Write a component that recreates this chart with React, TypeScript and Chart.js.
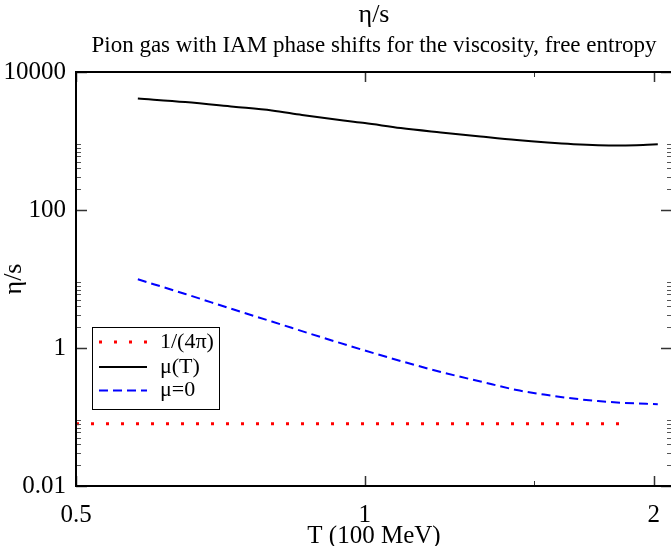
import React, { useEffect, useRef } from "react";
import { Chart, registerables } from "chart.js";

Chart.register(...registerables);

// ---- data ----
const tKss = [0.5, 1.87];
const etaKss = [0.0796, 0.0796];

const tMu = [0.58, 0.65, 0.73, 0.8, 0.86, 0.95, 1.0, 1.09, 1.2, 1.32, 1.44, 1.55, 1.65, 1.75, 1.85, 1.95, 2.02];
const etaMu = [4130, 3670, 3140, 2770, 2380, 1980, 1820, 1540, 1330, 1160, 1030, 950, 899, 869, 861, 875, 896];

const tMu0 = [0.58, 0.65, 0.73, 0.8, 0.9, 1.0, 1.09, 1.2, 1.32, 1.44, 1.55, 1.65, 1.75, 1.85, 2.02];
const etaMu0 = [9.9, 6.06, 3.61, 2.42, 1.44, 0.92, 0.648, 0.449, 0.327, 0.246, 0.208, 0.185, 0.17, 0.161, 0.153];

const seriesLabels = ["1/(4π)", "μ(T)", "μ=0"];

const xTickValues = [0.5, 1, 2];
const xTickLabels = ["0.5", "1", "2"];
const xMinorTicks = [1.5];

const yTickValues = [0.01, 1, 100, 10000];
const yTickLabels = ["0.01", "1", "100", "10000"];
const yMinorTicks = [
  0.02, 0.03, 0.04, 0.05, 0.06, 0.07, 0.08, 0.09,
  2, 3, 4, 5, 6, 7, 8, 9,
  200, 300, 400, 500, 600, 700, 800, 900,
];

const titleText = "η/s";
const subtitleText = "Pion gas with IAM phase shifts for the viscosity, free entropy";
const xTitle = "T (100 MeV)";
const yTitle = "η/s";

const FONT = "'Liberation Serif', 'Times New Roman', serif";

const toPoints = (xs: number[], ys: number[]) => xs.map((x, i) => ({ x, y: ys[i] }));

const frameTicksLegend = {
  id: "frameTicksLegend",
  afterDatasetsDraw(chart: any) {
    const { ctx, chartArea: a, scales } = chart;
    const xs = scales.x;
    const ys = scales.y;
    ctx.save();
    ctx.setLineDash([]);
    ctx.strokeStyle = "#000";
    ctx.lineCap = "butt";

    const drawX = (v: number, len: number, w: number) => {
      const px = Math.round(xs.getPixelForValue(v)) + 0.5;
      ctx.lineWidth = w;
      ctx.beginPath();
      ctx.moveTo(px, a.bottom);
      ctx.lineTo(px, a.bottom - len);
      ctx.moveTo(px, a.top);
      ctx.lineTo(px, a.top + len);
      ctx.stroke();
    };
    const drawY = (v: number, len: number, w: number) => {
      const py = Math.round(ys.getPixelForValue(v)) + 0.5;
      ctx.lineWidth = w;
      ctx.beginPath();
      ctx.moveTo(a.left, py);
      ctx.lineTo(a.left + len, py);
      ctx.moveTo(a.right, py);
      ctx.lineTo(a.right - len, py);
      ctx.stroke();
    };
    ctx.strokeStyle = "#333";
    xTickValues.forEach((v) => drawX(v, 10, 1.5));
    xMinorTicks.forEach((v) => drawX(v, 5, 1));
    yTickValues.forEach((v) => drawY(v, 11, 1.5));
    ctx.strokeStyle = "#555";
    yMinorTicks.forEach((v) => drawY(v, 5, 1));

    ctx.strokeStyle = "#000";
    ctx.lineWidth = 2;
    ctx.strokeRect(a.left, a.top, a.right - a.left, a.bottom - a.top);

    // legend
    const lx = a.left + 16;
    const ly = a.top + 255;
    const lw = 127;
    const lh = 82;
    ctx.fillStyle = "#fff";
    ctx.fillRect(lx, ly, lw, lh);
    ctx.lineWidth = 1;
    ctx.strokeStyle = "#000";
    ctx.strokeRect(lx + 0.5, ly + 0.5, lw, lh);
    const rows = [15, 40, 63.5];
    chart.data.datasets.forEach((ds: any, i: number) => {
      const y = ly + rows[i];
      ctx.save();
      ctx.strokeStyle = ds.borderColor;
      ctx.lineWidth = ds.borderWidth;
      ctx.setLineDash(ds.borderDash || []);
      ctx.beginPath();
      ctx.moveTo(lx + 7, y);
      ctx.lineTo(lx + 55, y);
      ctx.stroke();
      ctx.restore();
      ctx.fillStyle = "#000";
      ctx.font = `22px ${FONT}`;
      ctx.textBaseline = "middle";
      ctx.textAlign = "left";
      ctx.fillText(ds.label, lx + 68, y);
    });
    ctx.restore();
  },
};

export default function App() {
  const ref = useRef<HTMLCanvasElement | null>(null);

  useEffect(() => {
    if (!ref.current) return;
    const chart = new Chart(ref.current, {
      type: "line",
      data: {
        datasets: [
          {
            label: seriesLabels[0],
            data: toPoints(tKss, etaKss),
            borderColor: "#ff0000",
            borderWidth: 3,
            borderDash: [3, 12],
            pointRadius: 0,
            fill: false,
          },
          {
            label: seriesLabels[1],
            data: toPoints(tMu, etaMu),
            borderColor: "#000000",
            borderWidth: 2,
            pointRadius: 0,
            cubicInterpolationMode: "monotone",
            fill: false,
          },
          {
            label: seriesLabels[2],
            data: toPoints(tMu0, etaMu0),
            borderColor: "#0000ff",
            borderWidth: 2,
            borderDash: [9, 5],
            pointRadius: 0,
            cubicInterpolationMode: "monotone",
            fill: false,
          },
        ],
      },
      options: {
        responsive: false,
        animation: false,
        devicePixelRatio: 1,
        layout: { padding: { left: 0, right: 28, top: 0, bottom: 0 } },
        plugins: {
          legend: { display: false },
          tooltip: { enabled: false },
          title: {
            display: true,
            text: titleText,
            fullSize: false,
            color: "#000",
            font: { family: FONT, size: 26, weight: "normal", lineHeight: 1 },
            padding: { top: 2, bottom: 2 },
          },
          subtitle: {
            display: true,
            text: subtitleText,
            fullSize: false,
            color: "#000",
            font: { family: FONT, size: 23, weight: "normal", lineHeight: 1 },
            padding: { top: 4, bottom: 15 },
          },
        },
        scales: {
          x: {
            type: "logarithmic",
            min: 0.5,
            max: 2.09,
            afterBuildTicks: (s: any) => {
              s.ticks = xTickValues.map((v) => ({ value: v }));
            },
            afterFit: (s: any) => {
              s.height = 60;
            },
            grid: { display: false, drawTicks: false },
            border: { display: false },
            ticks: {
              autoSkip: false,
              maxRotation: 0,
              padding: 14,
              color: "#000",
              font: { family: FONT, size: 25 },
              callback: (_v: any, i: number) => xTickLabels[i],
            },
            title: {
              display: true,
              text: xTitle,
              color: "#000",
              font: { family: FONT, size: 25, lineHeight: 0.8 },
              padding: { top: 0, bottom: 0 },
            },
          },
          y: {
            type: "logarithmic",
            min: 0.01,
            max: 10000,
            afterBuildTicks: (s: any) => {
              s.ticks = yTickValues.map((v) => ({ value: v }));
            },
            afterFit: (s: any) => {
              s.width = 76;
            },
            grid: { display: false, drawTicks: false },
            border: { display: false },
            ticks: {
              autoSkip: false,
              padding: 10,
              color: "#000",
              font: { family: FONT, size: 25 },
              callback: (_v: any, i: number) => yTickLabels[i],
            },
            title: {
              display: true,
              text: yTitle,
              color: "#000",
              font: { family: FONT, size: 26, lineHeight: 1 },
              padding: { top: 1, bottom: 0 },
            },
          },
        },
      } as any,
      plugins: [frameTicksLegend],
    });
    return () => chart.destroy();
  }, []);

  return (
    <div
      style={{
        position: "fixed",
        left: 0,
        top: 0,
        width: 671,
        height: 546,
        overflow: "hidden",
        background: "#fff",
      }}
    >
      <canvas ref={ref} width={700} height={546} style={{ display: "block" }} />
    </div>
  );
}
